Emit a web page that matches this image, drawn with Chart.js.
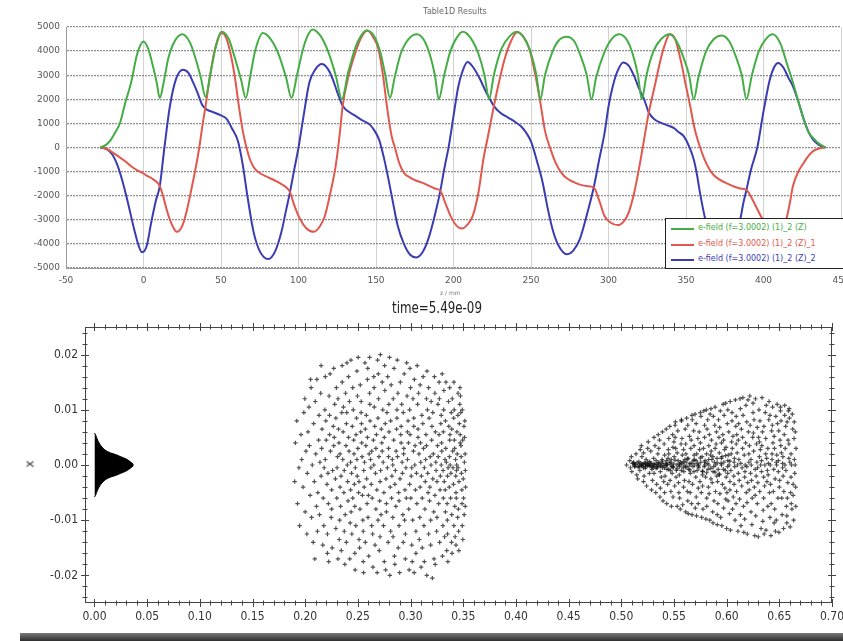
<!DOCTYPE html>
<html>
<head>
<meta charset="utf-8">
<script src="https://cdn.jsdelivr.net/npm/chart.js@4.4.1/dist/chart.umd.min.js"></script>
<style>
  html, body { margin: 0; padding: 0; background: #fff; }
  body { position: relative; width: 843px; height: 641px; overflow: hidden; font-family: 'DejaVu Sans', sans-serif; }
  canvas { position: absolute; left: 0; }
  #topChart { top: 0; }
  #botChart { top: 292px; }
  .lbl { position: absolute; white-space: nowrap; line-height: 1; }
  #topTitle { left: 380px; width: 150px; text-align: center; top: 8px; font-size: 8px; color: #666; }
  #zLabel { left: 440px; top: 290px; font-size: 6px; color: #777; }
  #timeTitle { left: 367px; width: 140px; text-align: center; top: 301px; font-size: 15px; color: #222;
    font-family: 'Liberation Sans Narrow', 'DejaVu Sans Condensed', 'Liberation Sans', sans-serif;
    transform: scaleX(0.88); }
  #yTitle { left: 26px; top: 458px; font-size: 12px; color: #333; transform: rotate(-90deg); }
  #legend { left: 665px; top: 218px; width: 190px; height: 49px; background: #fff; border: 1.5px solid #222;
    font-size: 8px; }
  #legend .row { position: absolute; left: 0; height: 10px; }
  #legend .swatch { position: absolute; left: 5px; top: 4px; width: 23px; height: 2px; }
  #legend .txt { position: absolute; left: 32px; top: 0; }
  #bar { position: absolute; left: 20px; top: 633px; width: 823px; height: 8px;
    background: linear-gradient(#7a7a7a, #2e2e2e); }
</style>
</head>
<body>
<canvas id="topChart" width="843" height="292"></canvas>
<canvas id="botChart" width="843" height="340"></canvas>
<div class="lbl" id="topTitle">Table1D Results</div>
<div class="lbl" id="zLabel">z / mm</div>
<div class="lbl" id="timeTitle">time=5.49e-09</div>
<div class="lbl" id="yTitle">x</div>
<div class="lbl" id="legend"></div>
<div id="bar"></div>
<script>
const palette = {
  green: '#45ad45',
  red: '#e0584e',
  blue: '#3a3cb2',
  tick: '#555',
  ink: '#222',
};

// ---- top chart: e-field along z ----
const topXTicks = [-50, 0, 50, 100, 150, 200, 250, 300, 350, 400, 450];
const topYTicks = [-5000, -4000, -3000, -2000, -1000, 0, 1000, 2000, 3000, 4000, 5000];
const legendLabels = [
  'e-field (f=3.0002) (1)_2 (Z)',
  'e-field (f=3.0002) (1)_2 (Z)_1',
  'e-field (f=3.0002) (1)_2 (Z)_2',
];

// [z, value]
const greenField = [[-28,0],[-24,120],[-21,330],[-18,650],[-15,1050],[-12,1800],[-8,2700],[-4,3900],[0,4400],[3,4100],[6,3400],[8.5,2700],[10.5,2050],[13,2700],[16,3700],[20,4400],[25,4700],[30,4350],[34,3600],[37,2900],[40,2100],[43,3000],[46,4000],[50.5,4800],[55,4500],[59,3700],[63,2800],[66,2050],[69,3000],[72,4000],[77,4750],[82,4500],[87,3900],[92,2900],[95.5,2050],[99,3000],[103,4100],[106,4650],[109,4900],[114,4650],[119,4000],[124,3000],[128,2000],[132,3100],[137,4200],[140.5,4650],[144,4850],[149,4600],[153,3900],[156,3000],[159,2050],[162,2900],[166,3900],[171,4500],[176.5,4700],[181,4450],[185,3800],[188,3000],[190.5,2000],[194,3000],[198,4000],[202,4550],[206,4800],[211,4550],[216,3900],[220,3000],[223,2000],[226,3000],[231,4100],[236,4600],[241,4800],[246,4500],[250,3900],[253.5,3000],[256,2000],[259,3000],[264,4000],[268,4450],[273,4600],[278,4400],[282,3800],[286,3000],[289,2000],[292,2900],[297,3900],[302,4500],[307,4700],[312,4450],[316,3800],[319,3000],[321.5,2000],[324.5,3000],[329,4000],[334,4500],[339.5,4700],[344,4400],[348,3800],[352,3000],[355,2000],[358,2900],[363,4000],[368,4500],[373,4650],[378,4400],[382,3800],[386,3000],[389,2000],[392.5,3000],[397,4000],[401.5,4500],[406,4700],[411,4300],[415,3500],[419,2700],[422.5,1900],[426,1160],[429,650],[432,400],[436,150],[440,0]];

const redField = [[-28,0],[-24,-50],[-20,-200],[-16,-380],[-12,-560],[-8,-780],[-4,-950],[-1,-1040],[3,-1200],[6,-1310],[8.5,-1430],[10.5,-1600],[13,-2100],[15.5,-2700],[18,-3150],[21.5,-3500],[25,-3250],[28,-2600],[31,-1700],[33.5,-900],[36,0],[38,900],[40,1700],[44,3390],[47,4300],[50.5,4750],[53,4600],[56,3940],[59,2900],[61.5,1730],[64,700],[66.7,-70],[69,-550],[72,-900],[76,-1100],[80.5,-1240],[85,-1380],[89,-1520],[92,-1650],[94.5,-1850],[97,-2350],[101,-2970],[105,-3350],[110,-3500],[114,-3250],[117,-2840],[120.5,-1900],[124,-760],[126.5,500],[128.5,1730],[132,2900],[136,3800],[140,4500],[144.5,4850],[148,4600],[151.6,4080],[154.5,3000],[157,1730],[160,500],[162.5,-70],[165,-650],[168,-1050],[172,-1250],[176,-1380],[180.5,-1480],[184.6,-1600],[188,-1700],[191.5,-1800],[195,-2350],[198.5,-2900],[202,-3250],[205.5,-3360],[209,-3200],[212.4,-2840],[216,-1900],[219.3,-480],[222.5,550],[226,1700],[229.5,2750],[233,3670],[237,4400],[241,4780],[245,4600],[249,4080],[252.5,3100],[255.7,2000],[259,700],[262.6,-70],[266,-650],[269.5,-1040],[273.5,-1300],[278,-1450],[282,-1550],[286,-1600],[290.5,-1650],[294,-2200],[297.4,-2840],[301,-3100],[306,-3220],[310,-3050],[313,-2700],[316.5,-1900],[320,-760],[323,350],[326,1450],[330,2600],[333.7,3670],[336.5,4300],[339.5,4700],[343,4500],[347,3500],[349.5,2700],[352.3,1850],[355.5,800],[358.8,60],[362,-500],[365.2,-910],[368,-1150],[371.7,-1330],[376,-1480],[380.3,-1600],[385,-1700],[389,-1760],[392,-2050],[395,-2430],[399.6,-2990],[403,-3250],[407,-3350],[411,-3200],[414.6,-2990],[417,-2300],[419,-1600],[422.5,-1000],[426,-630],[429,-350],[432,-150],[436,-40],[440,0]];

const blueField = [[-28,0],[-24,-60],[-20,-300],[-17,-700],[-14,-1300],[-10,-2300],[-6,-3400],[-3,-4100],[-1,-4350],[2,-4100],[5,-3100],[8,-2200],[10.5,-1600],[13.5,0],[17,1700],[21,2850],[25.5,3230],[29,3100],[32,2700],[35,2250],[38,1750],[41.5,1550],[44.5,1480],[50,1330],[53.5,1200],[57,800],[61,250],[64,-700],[67,-2000],[71,-3500],[75,-4300],[80.5,-4630],[85,-4300],[89,-3500],[92,-2600],[94.5,-1850],[97,-1000],[100,0],[103,1200],[107,2700],[111,3250],[115,3460],[119,3250],[122,2850],[125,2300],[128.5,1730],[132,1500],[137,1300],[142,1100],[146,950],[149,700],[152,330],[155,-400],[158,-1300],[161,-2300],[164,-3250],[168,-4000],[172,-4450],[176,-4560],[180,-4350],[184,-3750],[188,-2800],[191.5,-1800],[194,-900],[197,70],[200,1300],[203,2500],[206,3200],[209,3550],[213,3300],[217,2850],[221,2300],[226,1730],[230,1450],[235,1250],[240,1050],[244,850],[247,600],[250,250],[254,-600],[257.5,-1450],[261,-2600],[264.5,-3530],[268,-4100],[273,-4430],[277,-4300],[281.5,-3800],[286,-2800],[290.5,-1650],[294,-500],[297.5,620],[300,1700],[303,2600],[306,3200],[309.5,3530],[313,3400],[316.5,2970],[320,2400],[323,2000],[326,1450],[330,1150],[334,1020],[338,920],[342,815],[345,650],[348.5,470],[352,50],[355,-500],[357,-1100],[359,-1870],[362.5,-2990],[366,-3700],[370,-4250],[374,-4400],[378,-4200],[382,-3600],[385,-2990],[387,-2300],[389,-1760],[392,-900],[396,0],[400,1500],[404,2800],[407,3350],[409.5,3510],[413,3300],[416,2900],[419,2540],[422.5,1900],[426,1160],[429,650],[432,330],[436,100],[440,0]];

// ---- bottom chart: particle positions (x in 1e-3, y in 1e-4) ----
const botXTicks = [0, 0.05, 0.1, 0.15, 0.2, 0.25, 0.3, 0.35, 0.4, 0.45, 0.5, 0.55, 0.6, 0.65, 0.7];
const botYTicks = [-0.02, -0.01, 0, 0.01, 0.02];

// solid bunch near z=0: x positions and half height
const bunchX = [0, 0.001, 0.003, 0.006, 0.01, 0.015, 0.02, 0.025, 0.03, 0.034, 0.037];
const bunchHalf = [0.0058, 0.0055, 0.0045, 0.0035, 0.0027, 0.0022, 0.0019, 0.0015, 0.0011, 0.0006, 0.0001];

const cloudA = [[190,-30],[190.7,40],[192,80],[192.7,-70],[194,-5],[194.7,-110],[196,55],[196.7,10],[198,-40],[198.7,95],
[200,-85],[200.7,25],[199.6,120],[202,-15],[202.7,60],[201.6,-125],[204,35],[204.7,-55],[203.6,105],[205.1,155],
[206,-95],[206.7,0],[205.6,140],[208,75],[208.7,-30],[207.6,-140],[210,20],[210.7,-75],[209.6,115],[211.1,155],[209.1,-170],
[212,-50],[212.7,45],[211.6,-120],[213.1,90],[214,5],[214.7,130],[213.6,-90],[215.1,-20],
[216,65],[216.7,-145],[215.6,30],[217.1,-60],[215.1,180],[218,-5],[218.7,100],[217.6,-110],[219.1,160],
[220,45],[220.7,-35],[219.6,80],[221.1,-160],[219.1,10],[222,-70],[222.7,125],[221.6,-15],[223.1,55],[221.1,-125],[222.3,-175],
[224,25],[224.7,-95],[223.6,165],[225.1,-45],[223.1,90],[226,-10],[226.7,70],[225.6,-150],[227.1,35],[225.1,-80],
[228,110],[228.7,-25],[227.6,50],[229.1,-115],[227.1,175],[230,-60],[230.7,15],[229.6,140],[231.1,-170],[229.1,85],[230.3,-5],
[232,40],[232.7,-100],[231.6,65],[233.1,-40],[231.1,120],[232.3,-135],[234,-20],[234.7,95],[233.6,-75],[235.1,180],[233.1,20],[234.3,-155],
[236,60],[236.7,-50],[235.6,10],[237.1,-120],[235.1,150],[236.3,105],[238,-90],[238.7,35],[237.6,-180],[239.1,75],[237.1,-10],[238.3,130],
[240,0],[240.7,-65],[239.6,185],[241.1,50],[239.1,-140],[240.3,-30],[239.4,95],[242,115],[242.7,-105],[241.6,25],[243.1,-45],[241.1,160],[242.3,-170],
[244,-15],[244.7,70],[243.6,-85],[245.1,140],[243.1,5],[244.3,-125],[243.4,190],[246,45],[246.7,-35],[245.6,100],[247.1,-160],[245.1,-60],[246.3,20],
[248,-110],[248.7,85],[247.6,-5],[249.1,170],[247.1,-75],[248.3,55],[247.4,-190],[250,30],[250.7,-50],[249.6,125],[251.1,-135],[249.1,10],[250.3,195],[249.4,-20],
[252,-80],[252.7,60],[251.6,-150],[253.1,95],[251.1,-30],[252.3,145],[254,15],[254.7,-100],[253.6,40],[255.1,-175],[253.1,115],[254.3,-55],[253.4,75],
[256,-40],[256.7,185],[255.6,-10],[257.1,65],[255.1,-120],[256.3,5],[255.4,-195],[258,90],[258.7,-70],[257.6,35],[259.1,155],[257.1,-140],[258.3,-25],
[260,-55],[260.7,20],[259.6,-95],[261.1,130],[259.1,50],[260.3,-165],[259.4,175],[262,10],[262.7,-35],[261.6,80],[263.1,-110],[261.1,195],[262.3,-5],[261.4,110],
[264,-125],[264.7,45],[263.6,-60],[265.1,160],[263.1,25],[264.3,-185],[266,70],[266.7,-15],[265.6,105],[267.1,-80],[265.1,0],[266.3,-145],[265.4,140],
[268,-45],[268.7,190],[267.6,55],[269.1,-100],[267.1,30],[268.3,-195],[270,15],[270.7,-65],[269.6,120],[271.1,-30],[269.1,85],[270.3,-155],[269.4,165],
[272,-90],[272.7,40],[271.6,-10],[273.1,150],[271.1,-130],[272.3,65],[271.4,200],[274,5],[274.7,-50],[273.6,100],[275.1,-175],[273.1,25],[274.3,-110],
[276,75],[276.7,-25],[275.6,135],[277.1,-70],[275.1,50],[276.3,-190],[275.4,180],[278,-5],[278.7,-140],[277.6,95],[279.1,15],[277.1,-85],[278.3,160],
[280,195],[280.7,-40],[279.6,60],[281.1,-120],[279.1,30],[280.3,-200],[279.4,110],[282,-60],[282.7,10],[281.6,145],[283.1,-95],[281.1,80],[282.3,-20],
[284,45],[284.7,-165],[283.6,120],[285.1,-35],[283.1,0],[284.3,175],[283.4,-130],[286,-75],[286.7,65],[285.6,-10],[287.1,100],[285.1,-180],[286.3,25],
[288,130],[288.7,-50],[287.6,15],[289.1,-110],[287.1,85],[288.3,-150],[287.4,190],[290,-25],[290.7,55],[289.6,-195],[291.1,40],[289.1,-65],[290.3,150],
[292,5],[292.7,-90],[291.6,110],[293.1,-140],[291.1,70],[292.3,-15],[294,165],[294.7,-45],[293.6,30],[295.1,-170],[293.1,95],[294.3,-100],[293.4,20],
[296,-60],[296.7,125],[295.6,-5],[297.1,60],[295.1,-125],[296.3,185],[298,40],[298.7,-190],[297.6,80],[299.1,-35],[297.1,10],[298.3,-80],
[300,140],[300.7,-20],[299.6,55],[301.1,-145],[299.1,100],[300.3,-60],[299.4,175],[302,-100],[302.7,25],[301.6,-175],[303.1,70],[301.1,-5],[302.3,120],
[304,0],[304.7,-45],[303.6,155],[305.1,-120],[303.1,85],[304.3,35],[303.4,-195],[306,-70],[306.7,110],[305.6,-15],[307.1,50],[305.1,-160],[306.3,180],
[308,20],[308.7,-95],[307.6,130],[309.1,-40],[307.1,65],[308.3,-135],[310,-185],[310.7,90],[309.6,5],[311.1,-60],[309.1,145],[310.3,-20],[309.4,40],
[312,160],[312.7,-110],[311.6,75],[313.1,-5],[311.1,-150],[312.3,30],[314,-30],[314.7,55],[313.6,-80],[315.1,120],[313.1,-175],[314.3,10],
[316,100],[316.7,-50],[315.6,170],[317.1,-125],[315.1,35],[316.3,-15],[315.4,-200],[318,-65],[318.7,15],[317.6,85],[319.1,-100],[317.1,140],[318.3,-40],
[320,45],[320.7,-205],[319.6,115],[321.1,-25],[319.1,-145],[320.3,70],[319.4,0],[322,-85],[322.7,160],[321.6,20],[323.1,-55],[321.1,95],[322.3,-170],
[324,5],[324.7,-120],[323.6,60],[325.1,-30],[323.1,130],[324.3,-10],[323.4,-180],[326,110],[326.7,-70],[325.6,35],[327.1,150],[325.1,-95],[326.3,15],
[328,-45],[328.7,75],[327.6,-140],[329.1,0],[327.1,55],[328.3,-20],[327.4,120],
[330,165],[330.7,-110],[329.6,25],[331.1,-60],[329.1,90],[330.3,-165],[329.4,40],[330.9,-10],
[332,-30],[332.7,10],[331.6,135],[333.1,-85],[331.1,60],[332.3,-130],[331.4,100],[332.9,-45],
[334,5],[334.7,-70],[333.6,150],[335.1,-20],[333.1,80],[334.3,-155],[333.4,30],[334.9,-100],
[336,115],[336.7,-40],[335.6,-5],[337.1,45],[335.1,-125],[336.3,70],[335.4,-175],[336.9,15],
[338,-60],[338.7,95],[337.6,0],[339.1,-90],[337.1,140],[338.3,-15],[337.4,55],[338.9,-140],
[340,25],[340.7,-35],[339.6,120],[341.1,-110],[339.1,65],[340.3,-5],[339.4,-160],[340.9,85],
[342,-75],[342.7,10],[341.6,45],[343.1,-50],[341.1,150],[342.3,-130],[341.4,100],[342.9,-20],[341.8,30],
[344,60],[344.7,-95],[343.6,-10],[345.1,130],[343.1,-145],[344.3,20],[343.4,-60],[344.9,90],[343.8,0],
[346,-30],[346.7,110],[345.6,-120],[347.1,40],[345.1,-5],[346.3,75],[345.4,-80],[346.9,140],[345.8,-155],
[348,15],[348.7,-45],[347.6,95],[349.1,-110],[347.1,55],[348.3,-15],[347.4,125],[348.9,-70],[347.8,35],
[350,-25],[350.7,70],[349.6,-135],[351.1,5],[349.1,100],[350.3,-60],[349.4,45],[350.9,-90],
[351.8,20],[352.2,-40],[351.5,80],[352,-10],[351.2,50],[351.9,-75]];

const cloudB = [[505,0],[508,8],[508.7,-5],[510,-12],[510.7,3],[509.6,15],[512,0],[512.7,-3],[511.6,5],[514,20],[514.7,-18],[513.6,1],
[516,-4],[516.7,6],[515.6,-25],[517.1,0],[518,28],[518.7,3],[517.6,-10],[519.1,-2],[520,-1],[520.7,2],[519.6,15],[521.1,-30],[519.1,35],
[522,4],[522.7,-6],[521.6,-20],[523.1,0],[521.1,22],[524,-38],[524.7,1],[523.6,10],[525.1,30],[523.1,-3],
[526,0],[526.7,-15],[525.6,42],[527.1,-2],[525.1,5],[528,25],[528.7,-45],[527.6,3],[529.1,-8],[527.1,0],
[530,-2],[530.7,12],[529.6,-28],[531.1,50],[529.1,2],[530.3,-4],[532,35],[532.7,-50],[531.6,0],[533.1,8],[531.1,-15],
[534,-3],[534.7,20],[533.6,-35],[535.1,55],[533.1,1],[534.3,-5],[536,4],[536.7,-58],[535.6,30],[537.1,-12],[535.1,0],[536.3,45],
[538,-22],[538.7,10],[537.6,-2],[539.1,60],[537.1,-42],[538.3,3],[540,0],[540.7,38],[539.6,-65],[541.1,18],[539.1,-5],[540.3,-30],
[542,3],[542.7,65],[541.6,-20],[543.1,8],[541.1,-50],[542.3,-1],[544,-35],[544.7,28],[543.6,0],[545.1,48],[543.1,-70],[544.3,12],[543.4,-8],
[546,70],[546.7,-10],[545.6,4],[547.1,-48],[545.1,20],[546.3,-28],[548,-3],[548.7,55],[547.6,-75],[549.1,32],[547.1,0],[548.3,-15],[547.4,10],
[550,42],[550.7,-38],[549.6,2],[551.1,72],[549.1,-58],[550.3,15],[549.4,-5],[552,-22],[552.7,0],[551.6,30],[553.1,-75],[551.1,50],[552.3,-10],[551.4,78],
[554,8],[554.7,-50],[553.6,62],[555.1,-3],[553.1,22],[554.3,-32],[556,-80],[556.7,38],[555.6,0],[557.1,80],[555.1,-18],[556.3,5],[555.4,-60],
[558,18],[558.7,-5],[557.6,48],[559.1,-40],[557.1,82],[558.3,-72],[557.4,3],[560,-28],[560.7,65],[559.6,0],[561.1,-85],[559.1,28],[560.3,10],[559.4,-12],
[562,85],[562.7,-48],[561.6,5],[563.1,-65],[561.1,38],[562.3,-3],[561.4,20],[564,-8],[564.7,52],[563.6,-88],[565.1,0],[563.1,72],[564.3,-30],[563.4,12],
[566,30],[566.7,-70],[565.6,-15],[567.1,90],[565.1,3],[566.3,45],[565.4,-50],[568,-3],[568.7,62],[567.6,-35],[569.1,18],[567.1,-90],[568.3,8],[567.4,82],
[570,92],[570.7,-22],[569.6,0],[571.1,-58],[569.1,35],[570.3,-78],[569.4,10],[572,-10],[572.7,48],[571.6,20],[573.1,-42],[571.1,75],[572.3,3],[571.4,-92],
[574,60],[574.7,-30],[573.6,-5],[575.1,95],[573.1,-70],[574.3,28],[573.4,0],[576,-50],[576.7,15],[575.6,88],[577.1,-18],[575.1,40],[576.3,-95],[575.4,5],
[578,30],[578.7,-3],[577.6,-80],[579.1,72],[577.1,-38],[578.3,98],[577.4,-12],[580,-22],[580.7,100],[579.6,8],[581.1,-60],[579.1,50],[580.3,-98],[579.4,0],[580.9,20],
[582,82],[582.7,-40],[581.6,3],[583.1,35],[581.1,-75],[582.3,-8],[581.4,65],[584,-100],[584.7,18],[583.6,55],[585.1,-25],[583.1,0],[584.3,92],[583.4,-52],
[586,10],[586.7,-85],[585.6,45],[587.1,-12],[585.1,102],[586.3,-32],[585.4,25],[588,-65],[588.7,72],[587.6,-3],[589.1,30],[587.1,-105],[588.3,5],[587.4,88],
[590,38],[590.7,-20],[589.6,0],[591.1,-90],[589.1,105],[590.3,60],[589.4,-48],[590.9,12],[592,-8],[592.7,50],[591.6,-70],[593.1,22],[591.1,-108],[592.3,82],[591.4,-30],
[594,98],[594.7,3],[593.6,-52],[595.1,40],[593.1,-18],[594.3,-95],[593.4,68],[596,-35],[596.7,110],[595.6,15],[597.1,-78],[595.1,0],[596.3,55],[595.4,-110],
[598,28],[598.7,-10],[597.6,90],[599.1,-62],[597.1,45],[598.3,-42],[597.4,5],[600,-115],[600.7,75],[599.6,-22],[601.1,8],[599.1,112],[600.3,-50],[599.4,32],[600.9,-3],
[602,60],[602.7,-88],[601.6,18],[603.1,-30],[601.1,100],[602.3,0],[601.4,-65],[604,-10],[604.7,42],[603.6,-118],[605.1,80],[603.1,-45],[604.3,20],[603.4,115],
[606,52],[606.7,-20],[605.6,-80],[607.1,5],[605.1,95],[606.3,-58],[605.4,30],[608,-100],[608.7,70],[607.6,-3],[609.1,38],[607.1,-35],[608.3,118],[607.4,12],[608.9,-70],
[610,22],[610.7,-120],[609.6,55],[611.1,-15],[609.1,88],[610.3,0],[609.4,-48],[612,-28],[612.7,120],[611.6,10],[613.1,-90],[611.1,45],[612.3,-62],[611.4,75],
[614,65],[614.7,-5],[613.6,-110],[615.1,30],[613.1,102],[614.3,-38],[613.4,3],[616,-75],[616.7,18],[615.6,90],[617.1,-22],[615.1,50],[616.3,-122],[615.4,122],
[618,40],[618.7,-50],[617.6,0],[619.1,78],[617.1,-98],[618.3,108],[617.4,-12],[620,-32],[620.7,60],[619.6,-125],[621.1,20],[619.1,-3],[620.3,118],[619.4,-68],
[622,125],[622.7,-15],[621.6,35],[623.1,-85],[621.1,5],[622.3,72],[621.4,-45],[624,-108],[624.7,50],[623.6,-28],[625.1,95],[623.1,10],[624.3,-60],[623.4,0],
[626,82],[626.7,-128],[625.6,25],[627.1,-8],[625.1,112],[626.3,-40],[625.4,58],[628,-20],[628.7,5],[627.6,-92],[629.1,68],[627.1,-55],[628.3,38],[627.4,120],
[630,-130],[630.7,100],[629.6,-32],[631.1,15],[629.1,-70],[630.3,50],[629.4,-5],[632,28],[632.7,-115],[631.6,80],[633.1,-12],[631.1,42],[632.3,0],[631.4,-48],
[634,60],[634.7,-82],[633.6,122],[635.1,-22],[633.1,8],[634.3,-102],[633.4,35],[636,-38],[636.7,95],[635.6,-125],[637.1,20],[635.1,-60],[636.3,0],[635.4,70],
[638,12],[638.7,-10],[637.6,108],[639.1,-75],[637.1,48],[638.3,-30],[637.4,-118],[640,82],[640.7,-50],[639.6,3],[641.1,-95],[639.1,30],[640.3,115],[639.4,-18],
[642,-128],[642.7,62],[641.6,-35],[643.1,10],[641.1,90],[642.3,-70],[641.4,0],[644,40],[644.7,-8],[643.6,105],[645.1,-105],[643.1,20],[644.3,-48],[643.4,72],
[646,-25],[646.7,88],[645.6,-80],[647.1,5],[645.1,52],[646.3,-120],[645.4,30],[648,110],[648.7,-60],[647.6,18],[649.1,-12],[647.1,-100],[648.3,75],[647.4,0],
[650,-40],[650.7,45],[649.6,-122],[651.1,98],[649.1,8],[650.3,-28],[649.4,62],[652,22],[652.7,-90],[651.6,80],[653.1,-5],[651.1,105],[652.3,-60],[651.4,35],
[654,-115],[654.7,55],[653.6,-20],[655.1,90],[653.1,3],[654.3,-48],[653.4,15],[656,70],[656.7,-75],[655.6,30],[657.1,-105],[655.1,108],[656.3,-10],[655.4,0],
[658,-32],[658.7,98],[657.6,-60],[659.1,12],[657.1,-92],[658.3,45],[657.4,78],[660,5],[660.7,-50],[659.6,85],[661.1,-22],[659.1,38],[660.3,-112],[659.4,102],
[662,-80],[662.7,65],[661.6,0],[663.1,-35],[661.1,20],[662.3,92],[661.4,-70],[664,48],[664.6,-15],[663.6,-100],[664.2,78],[663.1,-55],[664.3,10],
[665.5,-40],[665.8,30],[665.2,60],[665.6,-75],[665.1,0]];

// thin dense core of the second bunch
const coreB = [[512,3],[513,-2],[515,4],[517,-3],[519,1],[521,-5],[523,3],[525,-1],[527,6],[529,-4],[531,2],[533,-6],[535,4],[537,-2],[539,7],[541,-5],[543,1],[545,-8],[547,5],[549,-3],[551,9],[553,-7],[555,2],[557,-10],[559,6],[561,-4],[563,11],[565,-9],[567,3],[569,-12],[571,8],[573,-2],[575,13],[577,-11],[579,5],[581,-14],[583,10],[585,-6],[587,15],[589,-13],[591,4],[593,-16],[595,12],[597,-8],[599,17],[601,-15],[603,7]];

const pts = (arr) => arr.map(([x, y]) => ({ x, y }));
const particles = (arr) => arr.map(([x, y]) => ({ x: x / 1000, y: y / 10000 }));

Chart.defaults.font.family = "'DejaVu Sans', sans-serif";
Chart.defaults.animation = false;
Chart.defaults.responsive = false;
Chart.defaults.plugins.legend.display = false;
Chart.defaults.plugins.tooltip.enabled = false;

// legend box drawn over the plot (bottom right)
const legendEl = document.getElementById('legend');
[palette.green, palette.red, palette.blue].forEach((c, i) => {
  const row = document.createElement('div');
  row.className = 'row';
  row.style.top = (5 + i * 15.5) + 'px';
  row.innerHTML = '<span class="swatch" style="background:' + c + '"></span>' +
    '<span class="txt" style="color:' + c + '">' + legendLabels[i] + '</span>';
  legendEl.appendChild(row);
});

const lineSet = (label, data, color) => ({
  label,
  data: pts(data),
  borderColor: color,
  backgroundColor: color,
  borderWidth: 2,
  pointRadius: 0,
  fill: false,
  cubicInterpolationMode: 'monotone',
});

new Chart(document.getElementById('topChart'), {
  type: 'line',
  data: {
    datasets: [
      lineSet(legendLabels[0], greenField, palette.green),
      lineSet(legendLabels[1], redField, palette.red),
      lineSet(legendLabels[2], blueField, palette.blue),
    ],
  },
  options: {
    layout: { padding: { top: 27, right: 2, left: 0, bottom: 0 } },
    scales: {
      x: {
        type: 'linear',
        min: -50,
        max: 450,
        afterBuildTicks: (s) => { s.ticks = topXTicks.map((v) => ({ value: v })); },
        afterFit: (s) => { s.height = 24; s.paddingLeft = 0; s.paddingRight = 0; },
        ticks: { callback: (v) => String(v), color: palette.tick, font: { size: 9 }, padding: 7, maxRotation: 0, autoSkip: false },
        grid: { color: '#d2d2d2', lineWidth: 1, drawTicks: false },
        border: { color: '#9a9a9a' },
      },
      y: {
        min: -5000,
        max: 5000,
        afterBuildTicks: (s) => { s.ticks = topYTicks.map((v) => ({ value: v })); },
        afterFit: (s) => { s.width = 66; },
        ticks: { callback: (v) => String(v), color: palette.tick, font: { size: 9 }, padding: 6 },
        grid: { color: '#8e8e8e', lineWidth: 1.2, drawTicks: false },
        border: { color: '#9a9a9a', dash: [2, 1] },
      },
    },
  },
});

// frame with tick marks crossing all four sides
const frameTicks = {
  id: 'frameTicks',
  afterDraw(chart) {
    const { ctx, chartArea: a, scales: { x, y } } = chart;
    ctx.save();
    ctx.strokeStyle = '#444';
    ctx.lineWidth = 1;
    ctx.strokeRect(Math.round(a.left) + 0.5, Math.round(a.top) + 0.5, Math.round(a.width) - 1, Math.round(a.height) - 1);
    ctx.beginPath();
    for (let i = 0; i <= 70; i++) {
      const px = Math.round(x.getPixelForValue(i / 100)) + 0.5;
      const len = i % 5 === 0 ? 4 : 2.5;
      ctx.moveTo(px, a.top - len); ctx.lineTo(px, a.top + len);
      ctx.moveTo(px, a.bottom - len); ctx.lineTo(px, a.bottom + len);
    }
    for (let j = -12; j <= 12; j++) {
      const py = Math.round(y.getPixelForValue(j * 0.002)) + 0.5;
      const len = j % 5 === 0 ? 4 : 2.5;
      ctx.moveTo(a.left - len, py); ctx.lineTo(a.left + len, py);
      ctx.moveTo(a.right - len, py); ctx.lineTo(a.right + len, py);
    }
    ctx.stroke();
    ctx.restore();
  },
};

const narrow = "'Liberation Sans Narrow', 'DejaVu Sans Condensed', 'Liberation Sans', sans-serif";
const bunchEdge = (sign) => bunchX.map((x, i) => ({ x, y: sign * bunchHalf[i] }));
const bunchSet = (sign) => ({
  data: bunchEdge(sign),
  showLine: true,
  fill: 'origin',
  borderColor: '#000',
  backgroundColor: '#000',
  borderWidth: 1,
  pointRadius: 0,
  tension: 0.3,
});
const cloudSet = (data) => ({
  data,
  pointStyle: 'cross',
  pointRadius: 2.2,
  pointBorderWidth: 1.2,
  borderColor: 'rgba(15,15,15,0.72)',
  backgroundColor: 'rgba(15,15,15,0.72)',
});

new Chart(document.getElementById('botChart'), {
  type: 'scatter',
  data: {
    datasets: [
      bunchSet(1),
      bunchSet(-1),
      cloudSet(particles(cloudA)),
      cloudSet(particles(cloudB)),
      cloudSet(particles(coreB)),
    ],
  },
  options: {
    layout: { padding: { top: 35, right: 11, left: 0, bottom: 0 } },
    scales: {
      x: {
        type: 'linear',
        min: -0.009,
        max: 0.70,
        afterBuildTicks: (s) => { s.ticks = botXTicks.map((v) => ({ value: v })); },
        afterFit: (s) => { s.height = 29; s.paddingLeft = 0; s.paddingRight = 0; },
        ticks: {
          callback: (v) => Number(v).toFixed(2),
          color: '#333', font: { family: narrow, size: 12 }, padding: 7, maxRotation: 0, autoSkip: false,
        },
        grid: { display: false, drawTicks: false },
        border: { display: false },
      },
      y: {
        min: -0.025,
        max: 0.025,
        afterBuildTicks: (s) => { s.ticks = botYTicks.map((v) => ({ value: v })); },
        afterFit: (s) => { s.width = 85; },
        ticks: {
          callback: (v) => Number(v).toFixed(2),
          color: '#333', font: { family: narrow, size: 12 }, padding: 7,
        },
        grid: { display: false, drawTicks: false },
        border: { display: false },
      },
    },
  },
  plugins: [frameTicks],
});
</script>
</body>
</html>
